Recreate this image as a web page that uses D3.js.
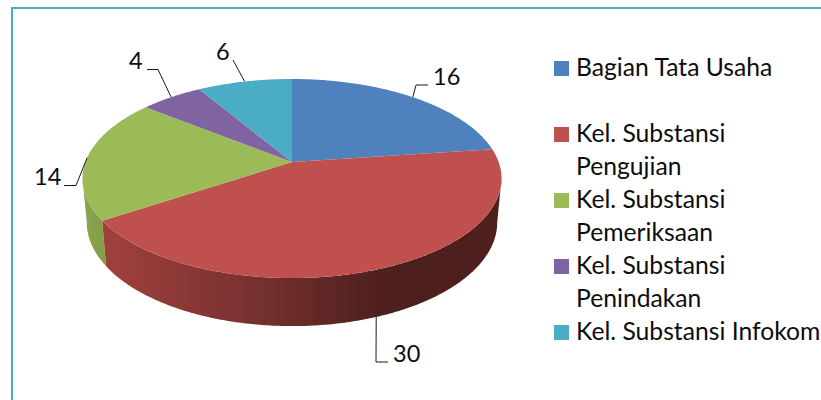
<!DOCTYPE html>
<html>
<head>
<meta charset="utf-8">
<script src="https://cdn.jsdelivr.net/npm/d3@7"></script>
<style>
  body { margin: 0; background: #fff; }
  text { font-family: Lato, "Open Sans", sans-serif; fill: #0d0d0d; }
</style>
</head>
<body>
<div id="chart"></div>
<script>
//Chart values
const categories = ['Bagian Tata Usaha', 'Kel. Substansi Pengujian', 'Kel. Substansi Pemeriksaan', 'Kel. Substansi Penindakan', 'Kel. Substansi Infokom'];
const values = [16, 30, 14, 4, 6];

//Configurables
const width = 821;
const height = 400;
const colors = ['#4f81bd', '#c0504d', '#9bbb59', '#8064a2', '#4bacc6'];
const legendFontSize = 24.7;
const labelFontSize = 23.5;
const persp = 0.166; //how much the near side of the disc grows

//top and bottom faces of the disc, same circle with different projection
const topFace = {cx: 292, cy: 162, rx: 206.6, ry: 96.8};
const bottomFace = {cx: 292, cy: 205, rx: 202.4, ry: 101};

//legend lines per entry, and leader line / label placing
const legendLines = [['Bagian Tata Usaha'], ['Kel. Substansi', 'Pengujian'], ['Kel. Substansi', 'Pemeriksaan'], ['Kel. Substansi', 'Penindakan'], ['Kel. Substansi Infokom']];
const legendBaselines = [76, 142, 208, 274, 340];
const leaderBends = [[[416, 85], [428, 85]], [[376, 362], [388, 362]], [[76, 185.5], [64, 185.5]], [[158, 69.5], [147, 69.5]], [[233, 60]]];
const labelSpots = [[433, 85], [393, 362], [34, 185], [129, 69], [216, 60]];

const svg = d3.select('#chart').append('svg')
    .attr('width', width)
    .attr('height', height)
    .style('display', 'block');

//frame
svg.append('path')
    .attr('d', `M${width},8H12V${height}`)
    .attr('fill', 'none')
    .attr('stroke', '#4bacc6')
    .attr('stroke-width', 2);

const pie = d3.pie().sort(null).value(d => d);
const slices = pie(values);

//angle is clockwise from north, as d3.pie gives it
const project = (face, a) => {
    const u = Math.sin(a);
    const v = -Math.cos(a);
    const w = 1 - persp * v;
    return [face.cx + face.rx * u / w, face.cy + face.ry * v / w];
};

const line = d3.line();
const arcPoints = (face, a0, a1) => {
    const n = Math.ceil((a1 - a0) * 90);
    return d3.range(n + 1).map(i => project(face, a0 + (a1 - a0) * i / n));
};

//sides go darker to the right, one gradient across the whole side
const defs = svg.append('defs');
const addGradient = (id, x1, x2, stops) => {
    const grad = defs.append('linearGradient')
        .attr('id', id)
        .attr('gradientUnits', 'userSpaceOnUse')
        .attr('x1', x1).attr('x2', x2)
        .attr('y1', 0).attr('y2', 0);
    stops.forEach((c, i) => {
        grad.append('stop')
            .attr('offset', i / (stops.length - 1))
            .attr('stop-color', c);
    });
};
addGradient('redSide', 106, 385, ['#a0403d', '#7a3230', '#4d1f1d']);
addGradient('greenSide', 84, 106, ['#87a34d', '#839e4a']);

//the wall is only seen between the two points where the outline turns back
const rightTurn = Math.acos(-persp);
const leftTurn = 2 * Math.PI - rightTurn;
const drawSide = (s, fill) => {
    const a0 = Math.max(s.startAngle, rightTurn);
    const a1 = Math.min(s.endAngle, leftTurn);
    svg.append('path')
        .attr('d', line([...arcPoints(topFace, a0, a1), ...arcPoints(bottomFace, a0, a1).reverse()]) + 'Z')
        .attr('fill', fill);
};
drawSide(slices[2], 'url(#greenSide)');
drawSide(slices[1], 'url(#redSide)');

//top face
svg.append('g').selectAll('path')
    .data(slices)
    .enter()
    .append('path')
    .attr('d', s => line([[topFace.cx, topFace.cy], ...arcPoints(topFace, s.startAngle, s.endAngle)]) + 'Z')
    .attr('fill', (s, i) => colors[i]);

//leader lines start at the middle of each slice's outer edge
svg.append('g').selectAll('path')
    .data(slices)
    .enter()
    .append('path')
    .attr('d', (s, i) => {
        const mid = (s.startAngle + s.endAngle) / 2;
        const face = i == 1 ? bottomFace : topFace;
        return line([project(face, mid), ...leaderBends[i]]);
    })
    .attr('fill', 'none')
    .attr('stroke', '#1a1a1a')
    .attr('stroke-width', 1);

svg.append('g').selectAll('text')
    .data(values)
    .enter()
    .append('text')
    .attr('x', (d, i) => labelSpots[i][0])
    .attr('y', (d, i) => labelSpots[i][1])
    .attr('font-size', labelFontSize)
    .text(d => d);

//legend
const legend = svg.append('g').selectAll('g')
    .data(categories)
    .enter()
    .append('g')
    .attr('transform', (d, i) => `translate(554, ${legendBaselines[i]})`);

legend.append('rect')
    .attr('y', -15)
    .attr('width', 15)
    .attr('height', 15)
    .attr('fill', (d, i) => colors[i]);

legend.each(function(d, i) {
    d3.select(this).selectAll('text')
        .data(legendLines[i])
        .enter()
        .append('text')
        .attr('x', 22)
        .attr('y', (t, j) => j * 33)
        .attr('font-size', legendFontSize)
        .text(t => t);
});
</script>
</body>
</html>
